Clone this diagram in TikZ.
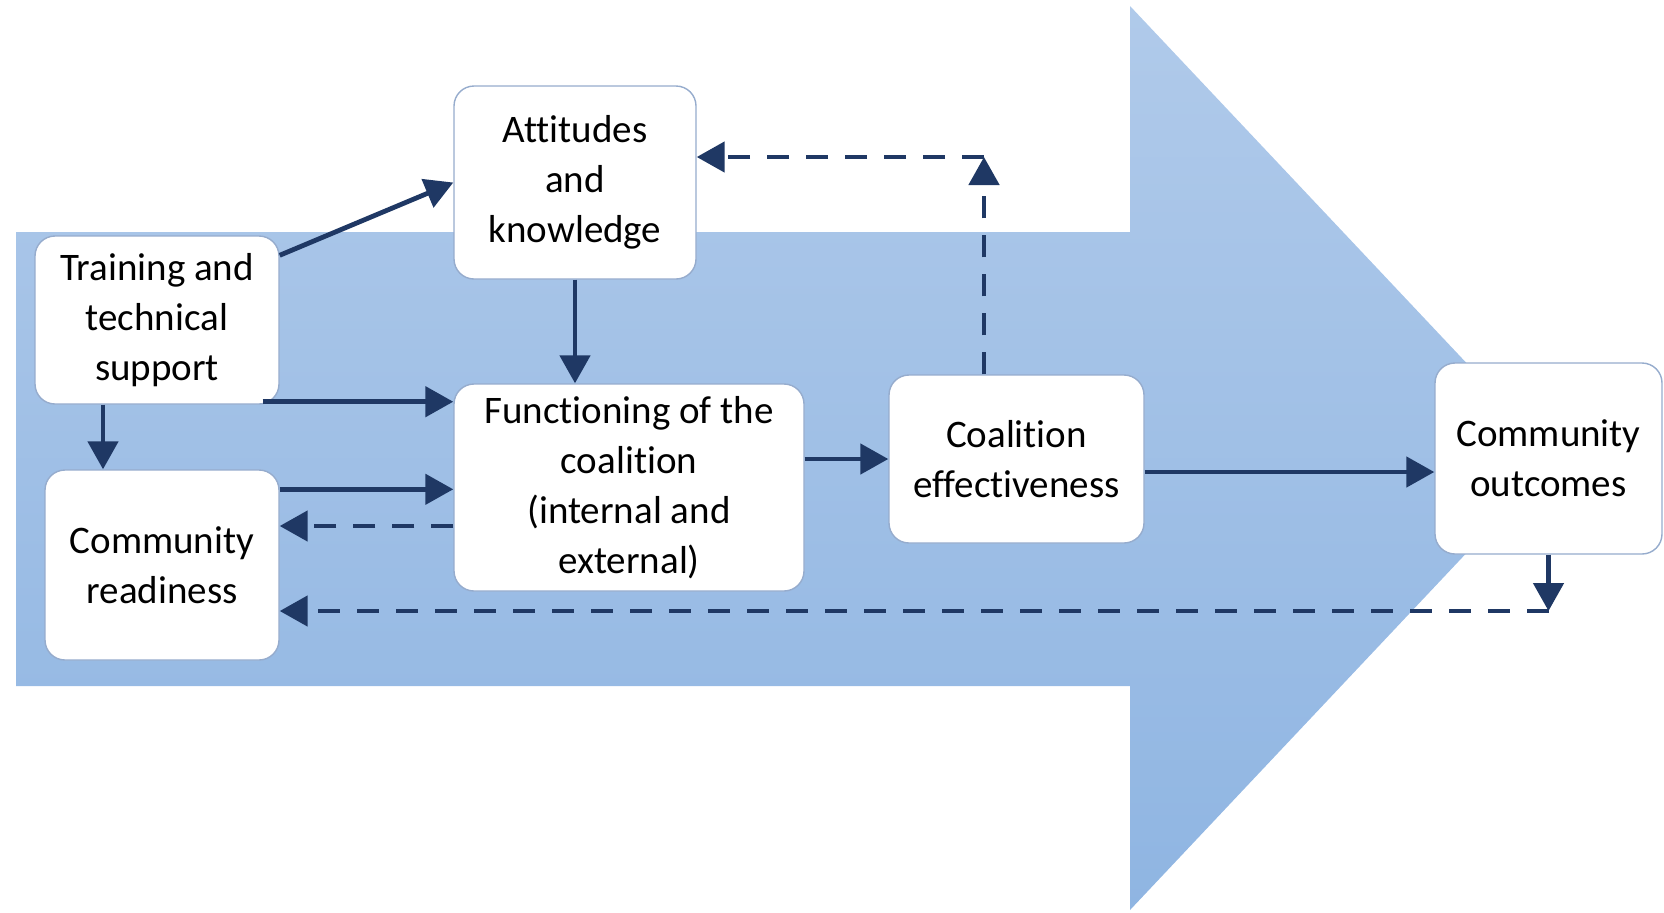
\documentclass[tikz,border=0pt]{standalone}
\usepackage{fontspec}
\setmainfont{Carlito}[Ligatures=NoCommon]
\usetikzlibrary{arrows.meta}

\definecolor{navy}{RGB}{31,56,100}
\definecolor{boxline}{RGB}{150,172,205}
\definecolor{arrtop}{RGB}{176,202,234}
\definecolor{arrbot}{RGB}{143,181,226}

\tikzset{
	box/.style={draw=boxline, line width=0.7pt, fill=white, rounded corners=10pt, align=center, inner sep=0pt, font=\fontsize{19.5}{25}\selectfont},
	flow/.style={navy, line width=2.4pt, -{Triangle[length=14pt,width=15pt]}},
	back/.style={flow, dash pattern=on 11pt off 8.5pt},
}

\begin{document}
\begin{tikzpicture}[x=0.5pt,y=-0.5pt]
	\useasboundingbox (0,0) rectangle (1664,912);
	% Big arrow
	\shade[top color=arrtop, bottom color=arrbot] (16,232) -- (1130,232) -- (1130,6) -- (1556,458) -- (1130,910) -- (1130,686) -- (16,686) -- cycle;
	% Boxes
	\node[box, minimum width=121pt, minimum height=96.5pt] (att) at (575,182.5) {Attitudes\\and\\knowledge};
	\node[box, minimum width=122pt, minimum height=84pt] (train) at (157,320) {Training and\\technical\\support};
	\node[box, minimum width=117pt, minimum height=95pt] (ready) at (162,565) {Community\\readiness};
	\node[box, minimum width=175pt, minimum height=103.5pt] (func) at (629,487.5) {Functioning of the\\coalition\\(internal and\\external)};
	\node[box, minimum width=127.5pt, minimum height=84pt] (eff) at (1016.5,459) {Coalition\\effectiveness};
	\node[box, minimum width=113.5pt, minimum height=95.5pt] (out) at (1548.5,458.5) {Community\\outcomes};
	% Solid links
	\coordinate (t1) at ([xshift=-8.5pt,yshift=1.5pt]train.south east);
	\coordinate (t2) at ([xshift=-27pt]train.south);
	\coordinate (r1) at ([yshift=-10pt]ready.north east);
	\coordinate (e1) at ([yshift=-6.5pt]eff.east);
	\draw[flow] ([yshift=-10pt]train.north east) -- (att.west);
	\draw[flow] (t1) -- (t1 -| func.west);
	\draw[flow] (t2) -- (t2 |- ready.north);
	\draw[flow] (att.south) -- (att.south |- func.north);
	\draw[flow] (r1) -- (r1 -| func.west);
	\draw[flow] (func.east |- eff.west) -- (eff.west);
	\draw[flow] (e1) -- (e1 -| out.west);
	% Feedback links
	\coordinate (f1) at ([yshift=-19.25pt]func.west);
	\coordinate (c1) at (984,157);
	\coordinate (c2) at (out.south |- 0,611);
	\draw[back] (f1) -- (f1 -| ready.east);
	\draw[back] (eff.north -| c1) -- (c1);
	\draw[back] (c1) -- (c1 -| att.east);
	\draw[flow] (out.south) -- (c2);
	\draw[back] (c2) -- (c2 -| ready.east);
\end{tikzpicture}
\end{document}
